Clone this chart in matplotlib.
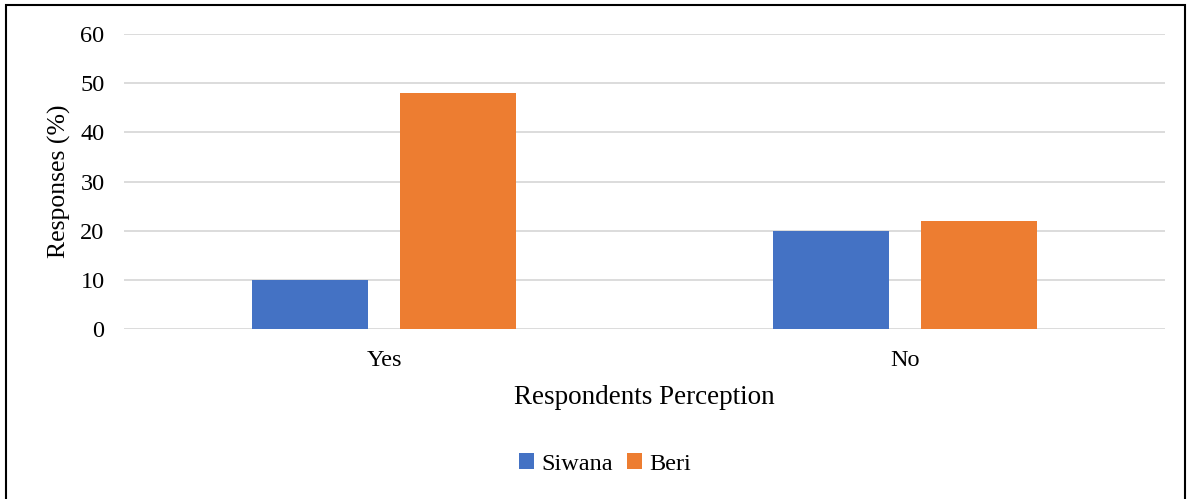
import matplotlib
matplotlib.use("Agg")
import matplotlib.pyplot as plt
import numpy as np
from matplotlib.patches import Rectangle

categories = ["Yes", "No"]
series_names = ["Siwana", "Beri"]
siwana = [10, 20]
beri = [48, 22]
yticks = [0, 10, 20, 30, 40, 50, 60]

plt.rcParams['font.family'] = ['Liberation Serif', 'DejaVu Serif']

fig = plt.figure(figsize=(11.89, 4.99), dpi=100)
ax = fig.add_axes([124/1189, 1-329/499, (1165-124)/1189, (329-34)/499])

x = np.arange(len(categories))
w = 0.223
off = 0.142
ax.bar(x - off, siwana, width=w, color="#4472C4", label=series_names[0], zorder=3)
ax.bar(x + off, beri, width=w, color="#ED7D31", label=series_names[1], zorder=3)

ax.set_xlim(-0.5, 1.5)
ax.set_ylim(0, 60)
ax.set_yticks(yticks)
ax.set_xticks(x)
ax.set_xticklabels(categories)
ax.tick_params(axis='both', length=0, labelsize=17.5)
ax.tick_params(axis='y', pad=14)
ax.tick_params(axis='x', pad=15)
ax.yaxis.grid(True, color="#d9d9d9", lw=1.3, zorder=0)
ax.set_axisbelow(True)
for s in ax.spines.values():
    s.set_visible(False)

ax.set_ylabel("Responses (%)", fontsize=18.5, labelpad=7)
ax.set_xlabel("Respondents Perception", fontsize=19.5, labelpad=10)

leg = fig.legend(loc='center', bbox_to_anchor=(605/1189, 1-464/499), ncol=2, frameon=False,
                 fontsize=17.5, handlelength=0.6, handleheight=0.6, handletextpad=0.3, columnspacing=0.6)

fig.patches.append(Rectangle((6/1189, -0.01), (1185-6)/1189, 1-5/499+0.01, transform=fig.transFigure,
                             fill=False, edgecolor='black', lw=1.5))

fig.savefig("out.png", dpi=100)
